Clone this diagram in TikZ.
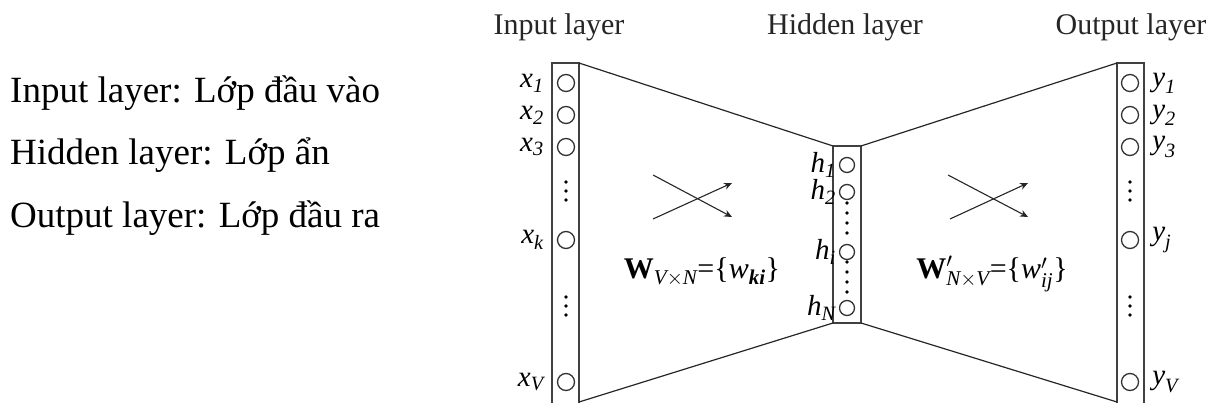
\documentclass[tikz,border=0pt]{standalone}
\usepackage{amsmath}
\usepackage{fontspec}
\setmainfont{Liberation Serif}
\usetikzlibrary{arrows.meta}

\begin{document}
\begin{tikzpicture}[x=1pt, y=-1pt, >=Stealth,
    layerbox/.style={draw=black!75, line width=1.4pt},
    unit/.style={circle, draw=black!80, line width=1.3pt, minimum size=17pt, inner sep=0pt},
    hunit/.style={unit, minimum size=15pt},
    dotmark/.style={fill=black, circle, inner sep=0pt, minimum size=3.8pt},
    wire/.style={black!85, line width=1.2pt},
    cross/.style={->, black!85, line width=1.1pt, >={Stealth[length=8pt, width=7pt]}},
    lbl/.style={font=\fontsize{29}{32}\selectfont, inner sep=0pt},
    wlbl/.style={font=\fontsize{30}{34}\selectfont},
    title/.style={font=\fontsize{30}{34}\selectfont, text=black!85},
    note/.style={font=\fontsize{37}{44}\selectfont, anchor=base west, inner sep=0pt}]

    \useasboundingbox (0,0) rectangle (1209,403);

    % ==========================================
    % 1. NOTES ON THE LEFT
    % ==========================================
    \node[note] (noteIn)  at (10,103) {Input layer: Lớp đầu vào};
    \node[note] (noteHid) at (10,165) {Hidden layer: Lớp ẩn};
    \node[note] (noteOut) at (10,228) {Output layer: Lớp đầu ra};

    % ==========================================
    % 2. LAYER TITLES
    % ==========================================
    \node[title] (tIn)  at (559,27)  {Input layer};
    \node[title] (tHid) at (845,27)  {Hidden layer};
    \node[title] (tOut) at (1131,27) {Output layer};

    % ==========================================
    % 3. LAYER BOXES
    % ==========================================
    \draw[layerbox] (552,63) rectangle (579,405);
    \draw[layerbox] (833,146) rectangle (861,323);
    \draw[layerbox] (1117,63) rectangle (1144,405);

    \coordinate (inTR)  at (579,63);
    \coordinate (inBR)  at (579,402);
    \coordinate (hidTL) at (833,146);
    \coordinate (hidBL) at (833,323);
    \coordinate (hidTR) at (861,146);
    \coordinate (hidBR) at (861,323);
    \coordinate (outTL) at (1117,63);
    \coordinate (outBL) at (1117,402);

    % trapezoid edges
    \draw[wire] (inTR) -- (hidTL);
    \draw[wire] (inBR) -- (hidBL);
    \draw[wire] (hidTR) -- (outTL);
    \draw[wire] (hidBR) -- (outBL);

    % ==========================================
    % 4. UNITS
    % ==========================================
    % input and output units
    \foreach \name/\y/\sub in {1/83/1, 2/115/2, 3/147/3, k/240/k, V/382/V} {
        \node[unit] (x\name) at (566,\y) {};
        \node[lbl, anchor=east] at ([xshift=-13pt]x\name.west) {$\textit{x}_{\textit{\sub}}$};
        \node[unit] (y\name) at (1130,\y) {};
    }
    \foreach \name/\sub in {1/1, 2/2, 3/3, k/j, V/V} {
        \node[lbl, anchor=west] at ([xshift=13pt]y\name.east) {$\textit{y}_{\textit{\sub}}$};
    }
    % hidden units
    \foreach \name/\y in {1/165, 2/192, i/252, N/308} {
        \node[hunit] (h\name) at (847,\y) {};
        \node[lbl, anchor=east] at ([xshift=-3pt]h\name.west) {$\textit{h}_{\textit{\name}}$};
    }

    % vertical dots
    \foreach \y in {182, 191, 200, 297, 306, 315} {
        \node[dotmark] at (566,\y) {};
        \node[dotmark] at (1130,\y) {};
    }
    \foreach \y in {203, 213, 223, 233, 262, 272, 282, 292} {
        \node[dotmark] at (847,\y) {};
    }

    % ==========================================
    % 5. WEIGHT MATRICES
    % ==========================================
    \coordinate (wA1) at (653,175);  \coordinate (wA2) at (732,217);
    \coordinate (wA3) at (653,219);  \coordinate (wA4) at (732,183);
    \draw[cross] (wA1) -- (wA2);
    \draw[cross] (wA3) -- (wA4);

    \coordinate (wB1) at (948,175);  \coordinate (wB2) at (1028,217);
    \coordinate (wB3) at (950,219);  \coordinate (wB4) at (1028,183);
    \draw[cross] (wB1) -- (wB2);
    \draw[cross] (wB3) -- (wB4);

    \node[wlbl] (wIn) at (702,272)
        {$\textbf{W}_{\textit{V}\times\textit{N}}\text{=\{}\textit{w}_{\textbf{\textit{ki}}}\text{\}}$};
    \node[wlbl] (wOut) at (992,274)
        {$\textbf{W}'_{\textit{N}\times\textit{V}}\text{=\{}\textit{w}'_{\textit{ij}}\text{\}}$};

\end{tikzpicture}
\end{document}
